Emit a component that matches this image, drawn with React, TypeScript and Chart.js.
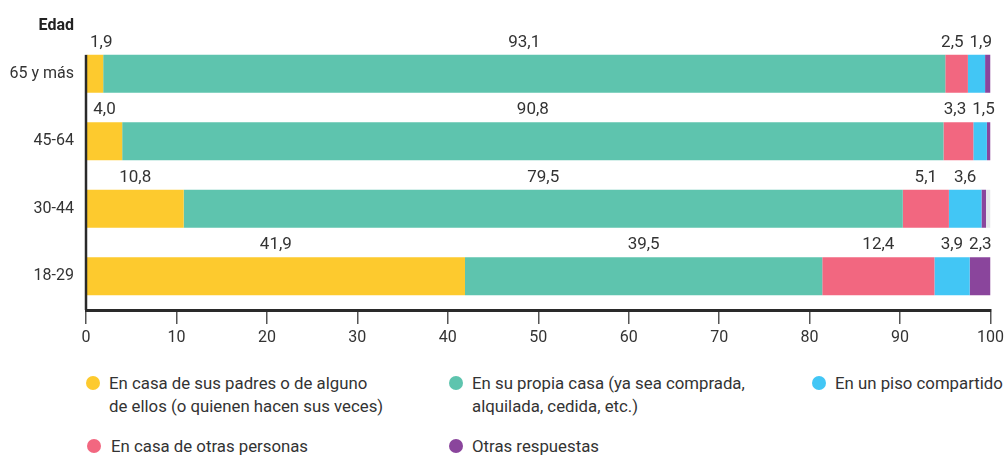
import React, { useEffect, useRef } from 'react';
import { Chart, registerables } from 'chart.js';

Chart.register(...registerables);

const categories = ['65 y más', '45-64', '30-44', '18-29'];
const seriesLabels = [
  'En casa de sus padres o de alguno\nde ellos (o quienen hacen sus veces)',
  'En su propia casa (ya sea comprada,\nalquilada, cedida, etc.)',
  'En un piso compartido',
  'En casa de otras personas',
  'Otras respuestas',
  'Sin respuesta',
];
const padres = [1.9, 4.0, 10.8, 41.9];
const propia = [93.1, 90.8, 79.5, 39.5];
const otras = [2.5, 3.3, 5.1, 12.4];
const piso = [1.9, 1.5, 3.6, 3.9];
const otrasResp = [0.6, 0.4, 0.5, 2.3];
const sinResp = [0, 0, 0.5, 0];
const xTicks = [0, 10, 20, 30, 40, 50, 60, 70, 80, 90, 100];

const COLORS = {
  padres: '#FDCA2E',
  propia: '#5EC4AE',
  otras: '#F26780',
  piso: '#42C6F5',
  otrasResp: '#8A459C',
  sinResp: '#E6E6EA',
};

const FONT = 'Roboto';
const TEXT = '#333333';

export default function App() {
  const ref = useRef<HTMLCanvasElement>(null);

  useEffect(() => {
    if (!ref.current) return;
    const showLabel = [true, true, true, true, true, false];

    const labelPlugin = {
      id: 'segLabels',
      afterDatasetsDraw(chart: any) {
        const ctx = chart.ctx;
        ctx.save();
        ctx.font = `17px ${FONT}`;
        ctx.fillStyle = TEXT;
        ctx.textAlign = 'center';
        ctx.textBaseline = 'alphabetic';
        for (let i = 0; i < categories.length; i++) {
          const items: any[] = [];
          let top = 0;
          chart.data.datasets.forEach((ds: any, d: number) => {
            const v = ds.data[i];
            const el = chart.getDatasetMeta(d).data[i];
            const p = el.getProps(['x', 'base', 'y', 'height'], true);
            top = p.y - p.height / 2;
            if (!showLabel[d] || v < 1) return;
            const text = v.toFixed(1).replace('.', ',');
            const w = ctx.measureText(text).width;
            items.push({ text, w, c: (p.x + p.base) / 2 });
          });
          const gap = 6;
          for (let it = 0; it < 30; it++) {
            const minLeft = chart.chartArea.left + 4;
            if (items.length && items[0].c - items[0].w / 2 < minLeft) items[0].c = minLeft + items[0].w / 2;
            const maxRight = chart.chartArea.right + 5;
            const last = items[items.length - 1];
            if (last && last.c + last.w / 2 > maxRight) last.c = maxRight - last.w / 2;
            for (let k = 0; k < items.length - 1; k++) {
              const a = items[k];
              const b = items[k + 1];
              const need = (a.w + b.w) / 2 + gap;
              const dist = b.c - a.c;
              if (dist < need) {
                const s = (need - dist) / 2;
                a.c -= s;
                b.c += s;
              }
            }
          }
          items.forEach((it) => ctx.fillText(it.text, it.c, top - 8));
        }
        ctx.restore();
      },
      afterDraw(chart: any) {
        const ctx = chart.ctx;
        const area = chart.chartArea;
        const first = chart.getDatasetMeta(0).data[0].getProps(['y', 'height'], true);
        ctx.save();
        ctx.strokeStyle = '#2a2a2a';
        ctx.lineWidth = 2.5;
        ctx.beginPath();
        ctx.moveTo(area.left, first.y - first.height / 2);
        ctx.lineTo(area.left, area.bottom);
        ctx.stroke();
        ctx.font = `bold 16px ${FONT}`;
        ctx.fillStyle = '#222';
        ctx.textAlign = 'right';
        ctx.textBaseline = 'middle';
        ctx.fillText('Edad', 74, 26);
        ctx.restore();
      },
    };

    const chart = new Chart(ref.current, {
      type: 'bar',
      data: {
        labels: categories,
        datasets: [
          { label: seriesLabels[0], data: padres, backgroundColor: COLORS.padres },
          { label: seriesLabels[1], data: propia, backgroundColor: COLORS.propia },
          { label: seriesLabels[3], data: otras, backgroundColor: COLORS.otras },
          { label: seriesLabels[2], data: piso, backgroundColor: COLORS.piso },
          { label: seriesLabels[4], data: otrasResp, backgroundColor: COLORS.otrasResp },
          { label: seriesLabels[5], data: sinResp, backgroundColor: COLORS.sinResp },
        ],
      },
      options: {
        indexAxis: 'y',
        responsive: false,
        maintainAspectRatio: false,
        animation: false,
        layout: { padding: { top: 40, right: 17, left: 0, bottom: 0 } },
        datasets: { bar: { barPercentage: 0.56, categoryPercentage: 1, borderWidth: 0 } },
        scales: {
          x: {
            stacked: true,
            min: 0,
            max: 100,
            afterBuildTicks: (s: any) => {
              s.ticks = xTicks.map((v) => ({ value: v }));
            },
            ticks: { color: TEXT, font: { family: FONT, size: 16 }, padding: 4, maxRotation: 0 },
            grid: { display: true, drawOnChartArea: false, drawTicks: true, tickLength: 14, color: '#555', lineWidth: 1.5 },
            border: { display: true, color: '#2a2a2a', width: 3 },
            afterFit: (s: any) => {
              s.height = 40;
            },
          },
          y: {
            stacked: true,
            ticks: { color: TEXT, font: { family: FONT, size: 16 }, padding: 12 },
            grid: { display: false, drawTicks: false },
            border: { display: false },
            afterFit: (s: any) => {
              s.width = 86;
            },
          },
        },
        plugins: { legend: { display: false }, tooltip: { enabled: false } },
      },
      plugins: [labelPlugin],
    } as any);
    return () => chart.destroy();
  }, []);

  const legend = [
    { color: COLORS.padres, text: seriesLabels[0], x: 93, y: 383, tx: 109 },
    { color: COLORS.propia, text: seriesLabels[1], x: 456, y: 383, tx: 472 },
    { color: COLORS.piso, text: seriesLabels[2], x: 819, y: 383, tx: 835 },
    { color: COLORS.otras, text: seriesLabels[3], x: 94, y: 446, tx: 111 },
    { color: COLORS.otrasResp, text: seriesLabels[4], x: 456, y: 446, tx: 472 },
  ];

  return (
    <div style={{ position: 'absolute', left: 0, top: 0, width: 1008, height: 456, background: '#fff', overflow: 'hidden', fontFamily: FONT }}>
      <canvas ref={ref} width={1008} height={350} style={{ display: 'block', position: 'absolute', left: 0, top: 0 }} />
      {legend.map((l, i) => (
        <React.Fragment key={i}>
          <div style={{ position: 'absolute', left: l.x - 7, top: l.y - 7, width: 14, height: 14, borderRadius: 7, background: l.color }} />
          <div style={{ position: 'absolute', left: l.tx, top: l.y - 11.5, fontSize: 16.8, lineHeight: '23px', color: TEXT, whiteSpace: 'pre' }}>{l.text}</div>
        </React.Fragment>
      ))}
    </div>
  );
}
